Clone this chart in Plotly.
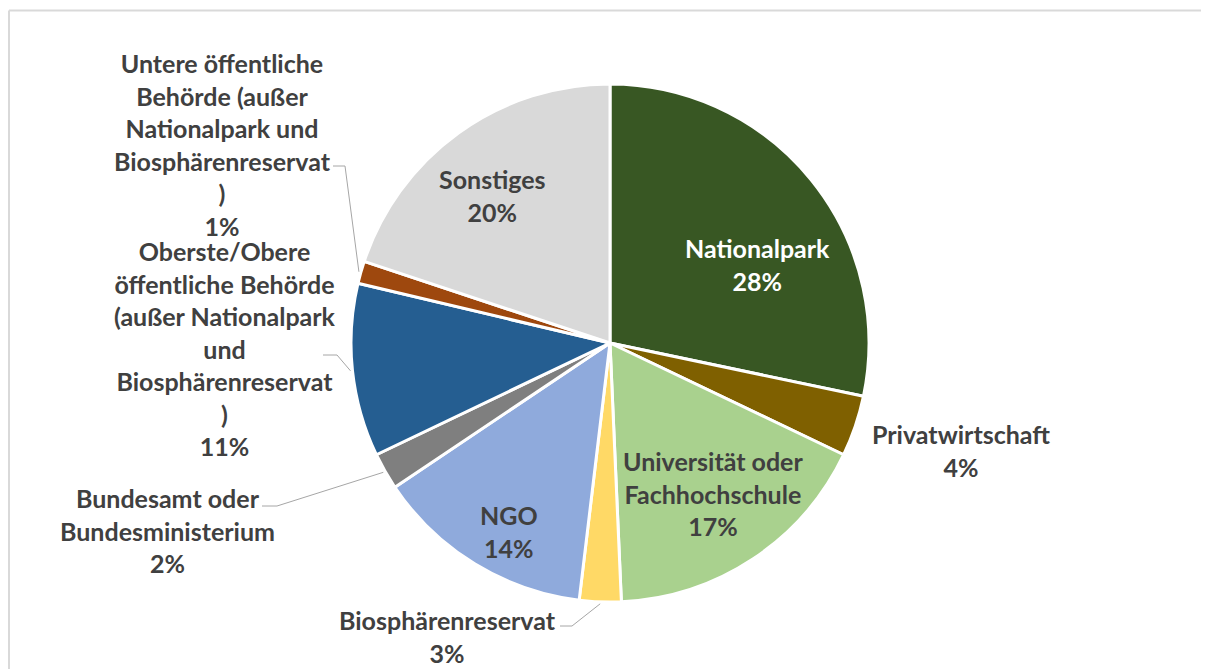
import math
import plotly.graph_objects as go

# ---- data ----
labels = [
    "Nationalpark",
    "Privatwirtschaft",
    "Universität oder Fachhochschule",
    "Biosphärenreservat",
    "NGO",
    "Bundesamt oder Bundesministerium",
    "Oberste/Obere öffentliche Behörde (außer Nationalpark und Biosphärenreservat)",
    "Untere öffentliche Behörde (außer Nationalpark und Biosphärenreservat)",
    "Sonstiges",
]
values = [28.3, 3.8, 17.2, 2.6, 13.7, 2.3, 10.8, 1.4, 19.9]
colors = ["#385723", "#7F6000", "#A9D18E", "#FFD966", "#8FAADC",
          "#7F7F7F", "#255E91", "#9E480E", "#D9D9D9"]
# how each label is wrapped in the reference
label_lines = [
    ["Nationalpark"],
    ["Privatwirtschaft"],
    ["Universität oder", "Fachhochschule"],
    ["Biosphärenreservat"],
    ["NGO"],
    ["Bundesamt oder", "Bundesministerium"],
    ["Oberste/Obere", "öffentliche Behörde", "(außer Nationalpark", "und", "Biosphärenreservat", ")"],
    ["Untere öffentliche", "Behörde (außer", "Nationalpark und", "Biosphärenreservat", ")"],
    ["Sonstiges"],
]

# ---- layout parameters (page pixels) ----
W, H = 1209, 669
OFF = 8  # page body margin
CX, CY, R = 610, 343, 259
FONT = "Lato, Carlito, Calibri, sans-serif"
FS = 25
TXT = "#404040"

def px(x):
    return (x - OFF) / W

def py(y):
    return 1 - (y - OFF) / H

# label block centres and leader elbows (layout positions)
label_pos = [
    (757, 265, None),
    (961, 450, None),
    (713, 493, None),
    (447, 636, (572, 626, 560)),
    (509, 531, None),
    (167, 530, (277, 506, 262)),
    (225, 349, (337, 355, 323)),
    (222, 144, (345, 166, 333)),
    (492, 195, None),
]
text_colors = ["white"] + [TXT] * 8

fig = go.Figure(go.Pie(
    labels=labels,
    values=values,
    sort=False,
    direction="clockwise",
    rotation=0,
    marker=dict(colors=colors, line=dict(color="white", width=3)),
    textinfo="none",
    hoverinfo="label+percent",
    showlegend=False,
    domain=dict(x=[px(CX - R), px(CX + R)], y=[py(CY + R), py(CY - R)]),
))

total = sum(values)
annotations = []
shapes = []
cum = 0.0
for i, v in enumerate(values):
    mid = (cum + v / 2) / total * 2 * math.pi
    cum += v
    pct = f"{round(v / total * 100)}%"
    text = "<br>".join(f"<b>{t}</b>" for t in label_lines[i] + [pct])
    lx, ly, leader = label_pos[i]
    annotations.append(dict(
        x=px(lx), y=py(ly), xref="paper", yref="paper",
        text=text, showarrow=False, align="center",
        xanchor="center", yanchor="middle",
        font=dict(family=FONT, size=FS, color=text_colors[i]),
    ))
    if leader:
        ex, ey, hx = leader
        sx = CX + (R + 2) * math.sin(mid)
        sy = CY - (R + 2) * math.cos(mid)
        shapes.append(dict(type="line", xref="paper", yref="paper",
                           x0=px(sx), y0=py(sy), x1=px(ex), y1=py(ey),
                           line=dict(color="#A6A6A6", width=1)))
        shapes.append(dict(type="line", xref="paper", yref="paper",
                           x0=px(ex), y0=py(ey), x1=px(hx), y1=py(ey),
                           line=dict(color="#A6A6A6", width=1)))

# chart-area frame (top and left edges visible)
shapes.append(dict(type="line", xref="paper", yref="paper",
                   x0=px(9), y0=py(10.5), x1=1.0, y1=py(10.5),
                   line=dict(color="#D9D9D9", width=2)))
shapes.append(dict(type="line", xref="paper", yref="paper",
                   x0=px(9), y0=py(10.5), x1=px(9), y1=0.0,
                   line=dict(color="#D9D9D9", width=2)))

fig.update_layout(
    width=W, height=H,
    margin=dict(l=0, r=0, t=0, b=0),
    paper_bgcolor="white",
    plot_bgcolor="white",
    annotations=annotations,
    shapes=shapes,
)

fig.write_html("out.html")
